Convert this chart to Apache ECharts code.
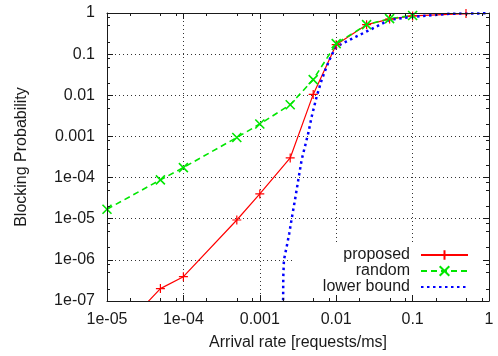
<!DOCTYPE html>
<html>
<head>
<meta charset="utf-8">
<script src="https://cdn.jsdelivr.net/npm/echarts@6/dist/echarts.min.js"></script>
<style>
  html, body { margin: 0; padding: 0; background: #fff; }
  #chart { width: 498px; height: 356px; }
</style>
</head>
<body>
<div id="chart"></div>
<script>
// Blocking probability vs arrival rate (log-log).
const xProposed = [1e-5, 5e-5, 1e-4, 5e-4, 1e-3, 2.5e-3, 5e-3, 1e-2, 2.5e-2, 5e-2, 0.1, 0.5];
const yProposed = [8.5e-9, 2e-7, 3.9e-7, 9.3e-6, 4e-5, 3e-4, 0.0105, 0.17, 0.52, 0.71, 0.85, 0.97];

const xRandom = [1e-5, 5e-5, 1e-4, 5e-4, 1e-3, 2.5e-3, 5e-3, 1e-2, 2.5e-2, 5e-2, 0.1];
const yRandom = [1.7e-5, 8.8e-5, 1.75e-4, 9.4e-4, 2e-3, 5.9e-3, 0.024, 0.18, 0.52, 0.73, 0.87];

const xBound = [2.0e-3, 2.03e-3, 2.07e-3, 2.25e-3, 2.43e-3, 2.62e-3, 2.89e-3, 3.19e-3, 3.53e-3,
  4.31e-3, 4.78e-3, 5.55e-3, 6.46e-3, 7.5e-3, 8.73e-3, 0.0102, 0.0137, 0.0185, 0.0277,
  0.0374, 0.0506, 0.101, 0.31, 1];
const yBound = [1e-8, 3.9e-7, 1e-6, 2.1e-6, 4.4e-6, 1.03e-5, 2.9e-5, 8.8e-5, 2.7e-4,
  1.2e-3, 3.05e-3, 9.3e-3, 0.0238, 0.05, 0.097, 0.154, 0.204, 0.27, 0.39,
  0.52, 0.69, 0.81, 0.96, 0.985];

const xTickLabels = ["1e-05", "1e-04", "0.001", "0.01", "0.1", "1"];   // 10^-5 .. 10^0
const yTickLabels = ["1e-07", "1e-06", "1e-05", "1e-04", "0.001", "0.01", "0.1", "1"]; // 10^-7 .. 10^0
const xDecades = [-5, -4, -3, -2, -1];
const yDecades = [-7, -6, -5, -4, -3, -2, -1];
const minorSteps = [2, 5, 8];

const FONT = "Liberation Sans, Arial, sans-serif";
const FS = 16;
const INK = "#1a1a1a";
const RED = "#ff0000";
const GREEN = "#00e600";
const BLUE = "#0000ff";

const zip = (xs, ys) => xs.map((x, i) => [x, ys[i]]);

// minor tick marks (2, 5, 8 in each decade), drawn on all four sides
const minorTicks = [];
xDecades.forEach(d => minorSteps.forEach(m => minorTicks.push([m * Math.pow(10, d), 1e-3, 0])));
yDecades.forEach(d => minorSteps.forEach(m => minorTicks.push([1e-3, m * Math.pow(10, d), 1])));

function labelFrom(list, lo) {
  return v => list[Math.round(Math.log10(v)) - lo] ?? "";
}

const frameAxis = (extra) => Object.assign({
  type: "log",
  logBase: 10,
  interval: 1,
  z: 5,
  axisLine: { show: true, lineStyle: { color: INK, width: 1 } },
  axisTick: { show: true, inside: true, length: 6, lineStyle: { color: INK } },
  splitLine: { show: false },
  axisLabel: { show: false },
}, extra);

const gridAxis = (extra) => Object.assign({
  type: "log",
  logBase: 10,
  interval: 1,
  z: 0,
  axisLine: { show: false },
  axisTick: { show: false },
  axisLabel: { show: false },
  splitLine: { show: true, lineStyle: { color: "#333", width: 1, type: [1, 3] } },
}, extra);

const legendRow = (name, top, extra) => Object.assign({
  data: [name],
  right: 29,
  top: top,
  padding: 0,
  align: "right",
  itemWidth: 47,
  itemHeight: 12,
  selectedMode: false,
  textStyle: { fontFamily: FONT, fontSize: FS, color: INK, padding: [0, 6, 0, 0] },
}, extra);

const chart = echarts.init(document.getElementById("chart"), null, { renderer: "canvas" });

chart.setOption({
  animation: false,
  backgroundColor: "#fff",
  grid: { left: 107, right: 9, top: 13, bottom: 55 },
  legend: [
    legendRow("proposed", 247),
    legendRow("random", 263),
    legendRow("lower bound", 279, { itemStyle: { opacity: 0 } }),
  ],
  graphic: [{
    type: "rect",
    z: 1,
    shape: { x: 293, y: 243, width: 196, height: 57 },
    style: { fill: "#fff" },
    silent: true,
  }],
  xAxis: [
    frameAxis({
      position: "bottom", min: 1e-5, max: 1,
      axisLabel: {
        show: true, margin: 11, fontFamily: FONT, fontSize: FS, color: INK,
        formatter: labelFrom(xTickLabels, -5),
      },
      name: "Arrival rate [requests/ms]",
      nameLocation: "middle",
      nameGap: 34,
      nameTextStyle: { fontFamily: FONT, fontSize: FS, color: INK },
    }),
    frameAxis({ position: "top", min: 1e-5, max: 1 }),
    gridAxis({ position: "bottom", min: 1e-5, max: 1 }),
  ],
  yAxis: [
    frameAxis({
      position: "left", min: 1e-7, max: 1,
      axisLabel: {
        show: true, margin: 12, fontFamily: FONT, fontSize: FS, color: INK,
        formatter: labelFrom(yTickLabels, -7),
      },
      name: "Blocking Probability",
      nameLocation: "middle",
      nameGap: 77,
      nameTextStyle: { fontFamily: FONT, fontSize: FS, color: INK },
    }),
    frameAxis({ position: "right", min: 1e-7, max: 1 }),
    gridAxis({ position: "left", min: 1e-7, max: 1 }),
  ],
  series: [
    {
      name: "proposed",
      type: "line",
      z: 3,
      data: zip(xProposed, yProposed),
      symbol: "path://M0,5L10,5M5,0L5,10",
      symbolSize: 9,
      itemStyle: { color: RED, borderColor: RED, borderWidth: 1.2 },
      lineStyle: { color: RED, width: 1.2 },
    },
    {
      name: "random",
      type: "line",
      z: 3,
      data: zip(xRandom, yRandom),
      symbol: "path://M0,0L10,10M10,0L0,10",
      symbolSize: 9,
      itemStyle: { color: GREEN, borderColor: GREEN, borderWidth: 1.6 },
      lineStyle: { color: GREEN, width: 1.6, type: [6, 4] },
    },
    {
      name: "lower bound",
      type: "line",
      z: 3,
      data: zip(xBound, yBound),
      symbol: "none",
      itemStyle: { color: BLUE },
      lineStyle: { color: BLUE, width: 2.5, type: [2.5, 3.5] },
    },
    {
      name: "minor ticks",
      type: "custom",
      z: 6,
      silent: true,
      clip: false,
      encode: { x: 0, y: 1 },
      data: minorTicks,
      renderItem(params, api) {
        const cs = params.coordSys;
        const p = api.coord([api.value(0), api.value(1)]);
        const style = { stroke: INK, lineWidth: 1 };
        const len = 3;
        if (api.value(2) === 0) {
          const x = Math.round(p[0]) + 0.5;
          return { type: "group", children: [
            { type: "line", shape: { x1: x, y1: cs.y + cs.height, x2: x, y2: cs.y + cs.height - len }, style },
            { type: "line", shape: { x1: x, y1: cs.y, x2: x, y2: cs.y + len }, style },
          ] };
        }
        const y = Math.round(p[1]) + 0.5;
        return { type: "group", children: [
          { type: "line", shape: { x1: cs.x, y1: y, x2: cs.x + len, y2: y }, style },
          { type: "line", shape: { x1: cs.x + cs.width, y1: y, x2: cs.x + cs.width - len, y2: y }, style },
        ] };
      },
    },
  ],
});
</script>
</body>
</html>
